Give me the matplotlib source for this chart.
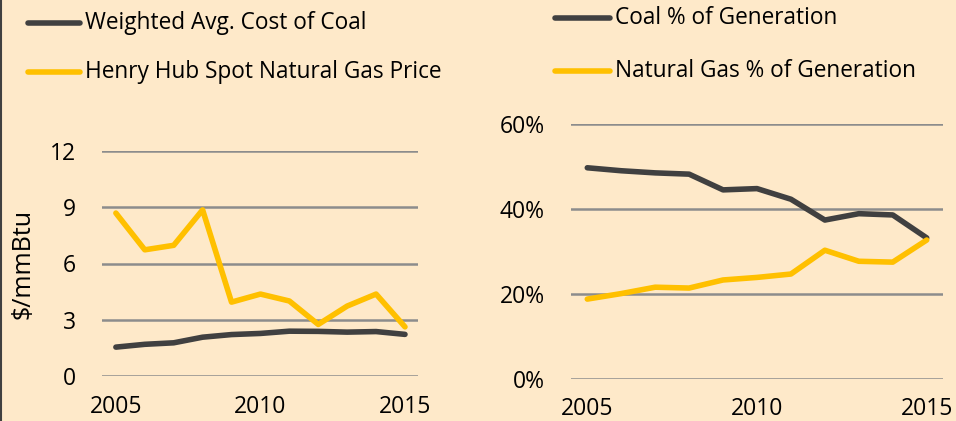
import matplotlib.pyplot as plt
from matplotlib.ticker import FuncFormatter

# === DATA ===
years = [2005, 2006, 2007, 2008, 2009, 2010, 2011, 2012, 2013, 2014, 2015]
coal_cost = [1.54, 1.69, 1.77, 2.07, 2.21, 2.27, 2.39, 2.38, 2.34, 2.37, 2.22]
gas_price = [8.69, 6.73, 6.97, 8.86, 3.94, 4.37, 4.00, 2.75, 3.73, 4.37, 2.62]
coal_share = [0.497, 0.490, 0.485, 0.482, 0.445, 0.448, 0.423, 0.374, 0.389, 0.386, 0.332]
gas_share = [0.188, 0.201, 0.216, 0.214, 0.233, 0.239, 0.247, 0.303, 0.277, 0.275, 0.327]

left_labels = ["Weighted Avg. Cost of Coal", "Henry Hub Spot Natural Gas Price"]
right_labels = ["Coal % of Generation", "Natural Gas % of Generation"]

# === STYLE ===
BG = "#FEE9C9"
DARK = "#404040"
GOLD = "#FFC000"
GRID = "#8C8C8C"
W, H = 956, 421
plt.rcParams["font.family"] = ["Open Sans", "DejaVu Sans"]

fig = plt.figure(figsize=(W / 100, H / 100), dpi=100, facecolor=BG)


def px_axes(x0, y0, x1, y1):
    # pixel box (top-left origin) -> figure fraction
    return fig.add_axes([x0 / W, 1 - y1 / H, (x1 - x0) / W, (y1 - y0) / H])


def style(ax, ypad, xpad):
    ax.set_facecolor("none")
    for s in ax.spines.values():
        s.set_visible(False)
    ax.yaxis.grid(True, color=GRID, linewidth=1.8)
    ax.set_axisbelow(True)
    ax.tick_params(length=0, labelsize=16.5, colors="black")
    ax.tick_params(axis="y", pad=ypad)
    ax.tick_params(axis="x", pad=xpad)
    ax.set_xticks([2005, 2010, 2015])


# ------------------------------
# Left: fuel prices
# ------------------------------
ax1 = px_axes(102, 151, 418, 376)
ax1.plot(years, coal_cost, color=DARK, linewidth=4, solid_capstyle="round")
ax1.plot(years, gas_price, color=GOLD, linewidth=4, solid_capstyle="round")
ax1.set_ylim(0, 12)
ax1.set_yticks([0, 3, 6, 9, 12])
ax1.set_xlim(2004.52, 2015.45)
style(ax1, 19, 14)
ax1.set_ylabel("$/mmBtu", fontsize=18, labelpad=10)

# ------------------------------
# Right: generation shares
# ------------------------------
ax2 = px_axes(571, 124, 943, 379)
ax2.plot(years, coal_share, color=DARK, linewidth=4, solid_capstyle="round")
ax2.plot(years, gas_share, color=GOLD, linewidth=4, solid_capstyle="round")
ax2.set_ylim(0, 0.6)
ax2.set_yticks([0, 0.2, 0.4, 0.6])
ax2.yaxis.set_major_formatter(FuncFormatter(lambda v, p: f"{v * 100:.0f}%"))
ax2.set_xlim(2004.52, 2015.48)
style(ax2, 19, 13)

# ------------------------------
# Legends (drawn as figure lines + text)
# ------------------------------
def legend_item(x0, x1, y, color, label):
    fig.add_artist(plt.Line2D([x0 / W, x1 / W], [1 - y / H, 1 - y / H],
                              color=color, linewidth=4, solid_capstyle="round"))
    fig.text((x1 + 5) / W, 1 - y / H, label, fontsize=16.3, va="center", ha="left")


legend_item(28, 80, 23, DARK, left_labels[0])
legend_item(28, 80, 72, GOLD, left_labels[1])
legend_item(555, 610, 18, DARK, right_labels[0])
legend_item(555, 610, 71, GOLD, right_labels[1])

# left border of the slide panel
fig.add_artist(plt.Line2D([0.5 / W, 0.5 / W], [0, 1], color=DARK, linewidth=1.5))

fig.savefig("out.png", dpi=100, facecolor=BG)
